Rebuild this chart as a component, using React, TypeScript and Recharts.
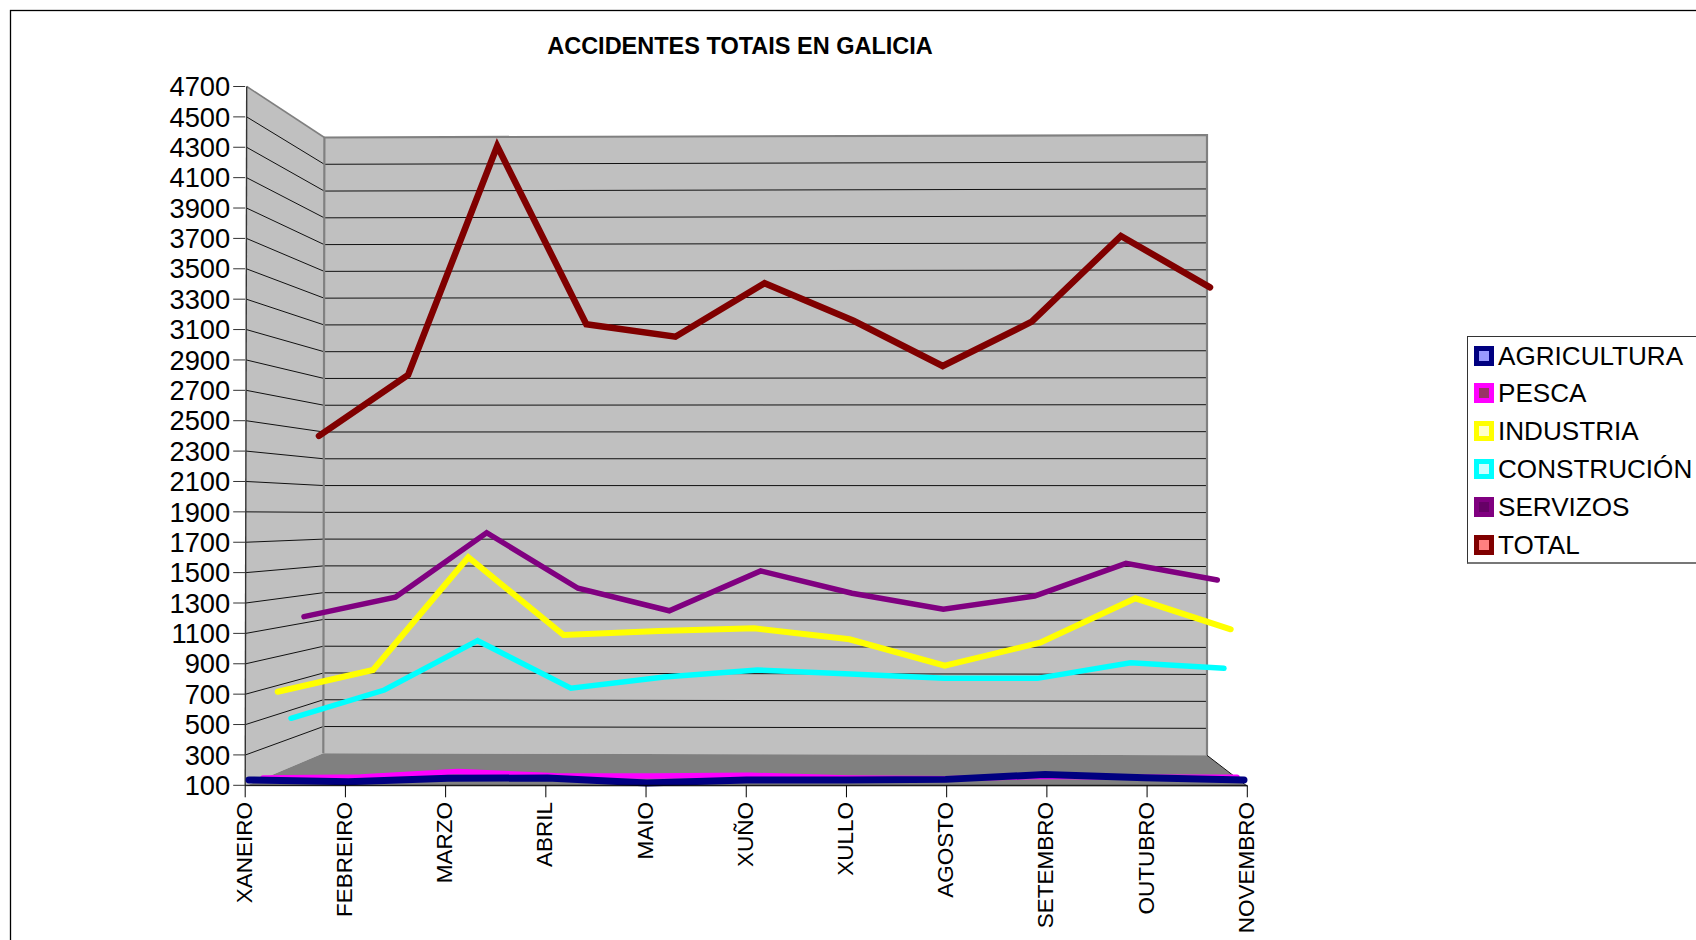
import React from "react";
import { LineChart, Line, XAxis, YAxis, Legend, Customized } from "recharts";

const months = ["XANEIRO", "FEBREIRO", "MARZO", "ABRIL", "MAIO", "XUÑO", "XULLO", "AGOSTO", "SETEMBRO", "OUTUBRO", "NOVEMBRO"];
const yTicks = [100, 300, 500, 700, 900, 1100, 1300, 1500, 1700, 1900, 2100, 2300, 2500, 2700, 2900, 3100, 3300, 3500, 3700, 3900, 4100, 4300, 4500, 4700];

const agricultura = [135, 124, 146, 148, 115, 135, 135, 139, 171, 150, 135];
const pesca = [148, 155, 190, 163, 161, 166, 148, 143, 159, 153, 153];
const industria = [716, 859, 1601, 1089, 1116, 1133, 1061, 887, 1039, 1331, 1127];
const construcion = [541, 727, 1052, 739, 813, 859, 833, 804, 804, 907, 870];
const servizos = [1210, 1338, 1763, 1397, 1249, 1511, 1364, 1259, 1346, 1561, 1451];
const total = [2400, 2801, 4308, 3135, 3053, 3405, 3158, 2860, 3152, 3716, 3378];

const rows = months.map((month, i) => ({
  month,
  agricultura: agricultura[i],
  pesca: pesca[i],
  industria: industria[i],
  construcion: construcion[i],
  servizos: servizos[i],
  total: total[i],
}));

const legendNames = ["AGRICULTURA", "PESCA", "INDUSTRIA", "CONSTRUCIÓN", "SERVIZOS", "TOTAL"];
const legendEdge = ["#000080", "#ff00ff", "#ffff00", "#00ffff", "#800080", "#800000"];
const legendFill = ["#9999ff", "#993366", "#ffffcc", "#ccffff", "#660066", "#ff8080"];

const FONT = "'Liberation Sans', Arial, sans-serif";
const W = 1696;
const H = 940;
const PL = 245.2;
const PR = 1247.3;
const PT = 86.5;
const PB = 785.3;
const YW = 60;
const XH = 100;

// painted back-to-front; each series sits at its own depth in the pseudo-3D box
const depthSeries = [
  { key: "total", name: "TOTAL", color: "#800000", width: 6.5, from: 319, to: 1210 },
  { key: "servizos", name: "SERVIZOS", color: "#800080", width: 5.5, from: 304, to: 1217.3 },
  { key: "construcion", name: "CONSTRUCIÓN", color: "#00ffff", width: 5.5, from: 291, to: 1224 },
  { key: "industria", name: "INDUSTRIA", color: "#ffff00", width: 6, from: 277.7, to: 1230.7 },
  { key: "pesca", name: "PESCA", color: "#ff00ff", width: 5.5, from: 263, to: 1237 },
  { key: "agricultura", name: "AGRICULTURA", color: "#000080", width: 7, from: 249, to: 1244 },
];

const frac = (v: number) => (v - 100) / 4600;
const frontY = (v: number) => PB + (PT - PB) * frac(v);
const backLY = (v: number) => 753.3 + (137.5 - 753.3) * frac(v);
const backRY = (v: number) => 755.3 + (135 - 755.3) * frac(v);
const backLX = (v: number) => 323.3 + 1.1 * frac(v);

function Box() {
  return (
    <g>
      <rect x={10.5} y={10.5} width={1800} height={1100} fill="none" stroke="#000" strokeWidth={1.3} />
      <polygon points={`246.7,${PT} 324.4,137.5 323.3,753.3 245,${PB + 1}`} fill="#c0c0c0" stroke="none" />
      <polygon points={`324.4,137.5 1207,135 1207,755.3 323.3,753.3`} fill="#c0c0c0" stroke="none" />
      <polygon points={`245,${PB + 1} 323.3,753.3 1207,755.3 ${PR},${PB + 1.4}`} fill="#808080" stroke="none" />
      {yTicks.slice(1, -1).map((v) => (
        <g key={v}>
          <line x1={245.5 + 1.2 * frac(v)} y1={frontY(v)} x2={backLX(v)} y2={backLY(v)} stroke="#111" strokeWidth={1} />
          <line x1={backLX(v)} y1={backLY(v)} x2={1207} y2={backRY(v)} stroke="#111" strokeWidth={1} />
        </g>
      ))}
      <line x1={246.7} y1={PT} x2={324.4} y2={137.5} stroke="#808080" strokeWidth={1.6} />
      <polyline points={`323.3,753.3 324.4,137.5 1207,135 1207,755.3`} fill="none" stroke="#808080" strokeWidth={2.2} />
      <line x1={1207} y1={755.3} x2={PR} y2={PB + 1} stroke="#111" strokeWidth={1} />
      <line x1={246.7} y1={PT} x2={245.2} y2={PB} stroke="#333" strokeWidth={1.4} />
      <text x={740} y={53.5} textAnchor="middle" fontFamily={FONT} fontWeight="bold" fontSize={23.5} fill="#000">
        ACCIDENTES TOTAIS EN GALICIA
      </text>
    </g>
  );
}

function MonthTick(props: any) {
  const { x, payload } = props;
  const bx = x + 6.6;
  const by = 802;
  return (
    <text
      x={bx}
      y={by}
      transform={`rotate(-90 ${bx} ${by})`}
      textAnchor="end"
      fontFamily={FONT}
      fontSize={22.5}
      fill="#000"
    >
      {payload.value}
    </text>
  );
}

function LegendBox() {
  return (
    <div
      style={{
        position: "relative",
        width: 300,
        height: 228,
        boxSizing: "border-box",
        border: "1px solid #333",
        borderBottom: "2px solid #777",
        background: "#fff",
        fontFamily: FONT,
        fontSize: 26.1,
        color: "#000",
      }}
    >
      {legendNames.map((name, i) => (
        <div key={name} style={{ position: "absolute", left: 0, top: 8.6 + i * 37.8, height: 20, whiteSpace: "nowrap" }}>
          <span
            style={{
              position: "absolute",
              left: 5.5,
              top: 0,
              width: 20,
              height: 20,
              boxSizing: "border-box",
              border: `5px solid ${legendEdge[i]}`,
              background: legendFill[i],
            }}
          />
          <span style={{ position: "absolute", left: 30, top: -5, lineHeight: "30px" }}>{name}</span>
        </div>
      ))}
    </div>
  );
}

export default function App() {
  return (
    <div style={{ position: "absolute", left: 0, top: 0, width: W, height: H, overflow: "hidden", background: "#fff" }}>
      <LineChart
        width={W}
        height={H}
        data={rows}
        margin={{ left: PL - YW, right: W - PR, top: PT, bottom: H - PB - XH }}
      >
        <Customized component={Box} />
        <XAxis
          xAxisId="front"
          dataKey="month"
          height={XH}
          interval={0}
          stroke="#000"
          tickSize={12}
          tick={<MonthTick />}
        />
        {depthSeries.map((s) => (
          <XAxis
            key={s.key}
            xAxisId={s.key}
            dataKey="month"
            hide
            height={0}
            padding={{ left: s.from - PL, right: PR - s.to }}
          />
        ))}
        <YAxis
          width={YW}
          type="number"
          domain={[100, 4700]}
          ticks={yTicks}
          interval={0}
          axisLine={false}
          stroke="#333"
          tickSize={12}
          tickMargin={3}
          tick={{ fontFamily: FONT, fontSize: 27.3, fill: "#000" }}
        />
        {depthSeries.map((s) => (
          <Line
            key={s.key}
            xAxisId={s.key}
            dataKey={s.key}
            name={s.name}
            type="linear"
            stroke={s.color}
            strokeWidth={s.width}
            strokeLinecap="round"
            dot={false}
            activeDot={false}
            isAnimationActive={false}
          />
        ))}
        <Legend
          layout="vertical"
          align="center"
          verticalAlign="middle"
          content={<LegendBox />}
          wrapperStyle={{ left: 1467, top: 336, bottom: "auto", right: "auto", width: 300, margin: 0 }}
        />
      </LineChart>
    </div>
  );
}
